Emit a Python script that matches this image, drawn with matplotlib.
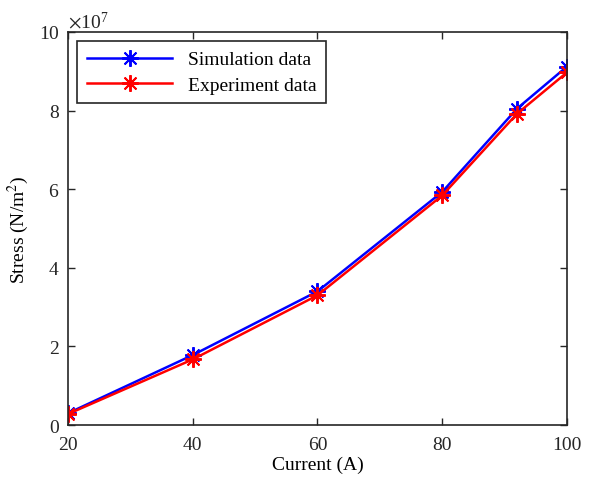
import numpy as np
import matplotlib
matplotlib.use("Agg")
import matplotlib.pyplot as plt

plt.rcParams['font.family'] = ['Liberation Serif', 'DejaVu Serif']
plt.rcParams['mathtext.fontset'] = 'stix'

current = [20, 40, 60, 80, 92, 100]
sim_stress = [0.30e7, 1.78e7, 3.40e7, 5.93e7, 8.05e7, 9.12e7]
exp_stress = [0.28e7, 1.67e7, 3.30e7, 5.84e7, 7.92e7, 8.97e7]

fig = plt.figure(figsize=(5.89, 4.85), dpi=100)
ax = fig.add_axes([0.1155, 0.1216, 0.847, 0.8104])

ast = (8, 2, 0)  # asterisk marker, MATLAB style (+ and x)
ax.plot(current, sim_stress, color='blue', lw=1.8, marker=ast, ms=12,
        mew=1.4, label='Simulation data')
ax.plot(current, exp_stress, color='red', lw=1.8, marker=ast, ms=12,
        mew=1.4, label='Experiment data')

ax.set_xlim(20, 100)
ax.set_ylim(0, 1e8)
ax.set_xticks([20, 40, 60, 80, 100])
ax.set_yticks(np.arange(0, 1.01e8, 2e7))
ax.ticklabel_format(axis='y', style='sci', scilimits=(7, 7), useMathText=True)
ax.yaxis.get_offset_text().set_fontsize(14)

ax.tick_params(direction='in', top=True, right=True, labelsize=14,
               length=5, width=1, colors='#262626')
ax.tick_params(axis='x', pad=8)
ax.tick_params(axis='y', pad=6)
for s in ax.spines.values():
    s.set_linewidth(1.2)
    s.set_color('#262626')

ax.set_xlabel('Current (A)', fontsize=14, labelpad=2)
ax.set_ylabel('Stress (N/m$^2$)', fontsize=14, labelpad=6)

leg = ax.legend(loc='upper left', fontsize=14, fancybox=False,
                edgecolor='#262626', framealpha=1, handlelength=4.4,
                borderpad=0.5, labelspacing=0.4, borderaxespad=0,
                bbox_to_anchor=(0.018, 0.977))
leg.get_frame().set_linewidth(1.2)

fig.savefig('out.png', dpi=100)
